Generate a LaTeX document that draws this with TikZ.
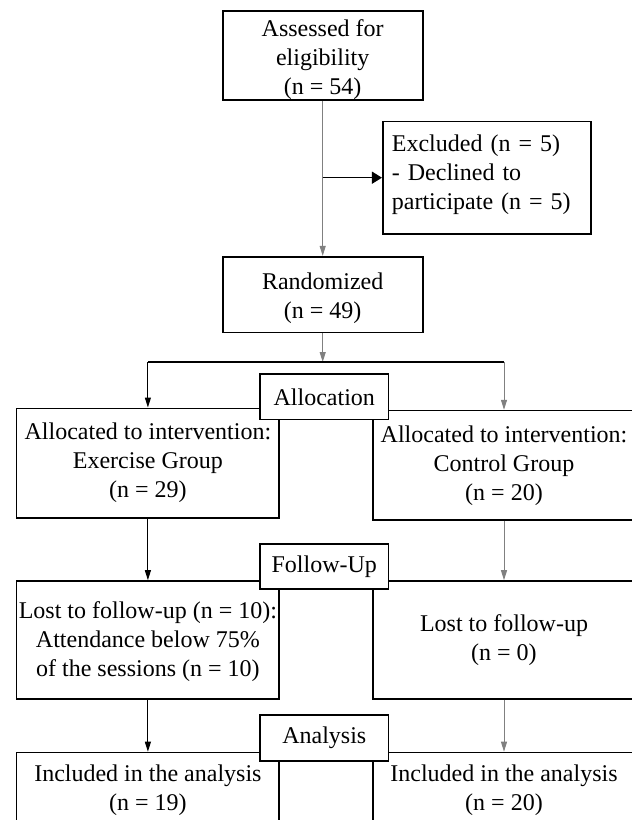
\documentclass[tikz,border=0pt]{standalone}
\usepackage{fontspec}
\setmainfont{Liberation Serif}
\usetikzlibrary{arrows.meta}
\definecolor{conngray}{HTML}{808080}
\newcommand{\shiftc}[2]{\raisebox{#1}[\height][\depth]{\begin{tabular}{@{}c@{}}#2\end{tabular}}}
\newcommand{\shiftl}[2]{\raisebox{#1}[\height][\depth]{\begin{tabular}{@{}l@{}}#2\end{tabular}}}
\begin{document}
\begin{tikzpicture}[x=1pt,y=-1pt,
  txt/.style={font=\fontsize{24}{29}\selectfont},
  box/.style={txt,draw=black,line width=1.6pt,fill=white,align=center,inner sep=0pt},
  bigbox/.style={box,minimum width=262.5pt},
  stage/.style={box,minimum width=128.5pt,minimum height=45.5pt},
  conn/.style={line width=1pt,-{Triangle[length=10pt,width=6pt]}},
  gconn/.style={conn,draw=conngray},
  hline/.style={line width=1.4pt,draw=black}
]
\useasboundingbox (0,0) rectangle (632,820);
\clip (0,0) rectangle (632,820);

% top
\node[box,minimum width=200pt,minimum height=89pt] (A) at (322.7,55.5)
  {\shiftc{-4pt}{Assessed for\\eligibility\\(n = 54)}};
\node[box,minimum width=208.3pt,minimum height=112.3pt,text width=190pt,align=left,inner xsep=9pt] (excl) at (486.9,177.7)
  {\shiftl{3pt}{Excluded (n = 5)\\- Declined to\\participate (n = 5)}};
\node[box,minimum width=200pt,minimum height=75.6pt] (rand) at (322.7,294.5)
  {\shiftc{-4pt}{Randomized\\(n = 49)}};

% groups
\node[bigbox,minimum height=109.4pt] (ex) at (147.9,463)
  {Allocated to intervention:\\Exercise Group\\(n = 29)};
\node[bigbox,minimum height=109.4pt] (ctl) at (504,465.3)
  {Allocated to intervention:\\Control Group\\(n = 20)};
\node[bigbox,minimum height=118pt] (lostL) at (147.9,640)
  {\shiftc{-2pt}{Lost to follow-up (n = 10):\\Attendance below 75\%\\of the sessions (n = 10)}};
\node[bigbox,minimum height=118pt] (lostR) at (504,640)
  {Lost to follow-up\\(n = 0)};
\node[bigbox,minimum height=75pt] (incL) at (147.9,790)
  {Included in the analysis\\(n = 19)};
\node[bigbox,minimum height=75pt] (incR) at (504,790)
  {Included in the analysis\\(n = 20)};

% stage labels (on top)
\node[stage] (alloc) at (324.3,396.8) {Allocation};
\node[stage] (fu) at (324.3,566.5) {Follow-Up};
\node[stage] (an) at (324.3,738) {Analysis};

% connectors
\coordinate (split) at (322.7,362);
\coordinate (splitL) at (ex.north |- split);
\coordinate (splitR) at (ctl.north |- split);
\draw[gconn] (A.south) -- (rand.north);
\draw[hline,-{Triangle[length=10pt,width=12pt]}] (A.south |- excl.west) -- (excl.west);
\draw[gconn] (rand.south) -- (split);
\draw[hline] (splitL) -- (splitR);
\draw[conn] (splitL) -- (ex.north);
\draw[gconn] (splitR) -- (ctl.north);
\draw[conn] (ex.south) -- (lostL.north);
\draw[gconn] (ctl.south) -- (lostR.north);
\draw[conn] (lostL.south) -- (incL.north);
\draw[gconn] (lostR.south) -- (incR.north);
\end{tikzpicture}
\end{document}
